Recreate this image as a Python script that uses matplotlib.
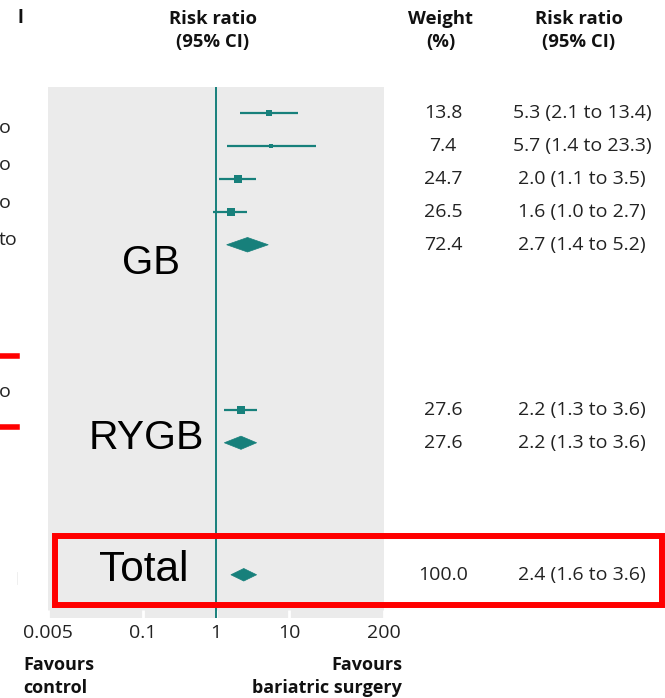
import matplotlib
matplotlib.use("Agg")
import matplotlib.pyplot as plt
from matplotlib.patches import Polygon, Rectangle
from matplotlib.lines import Line2D
import matplotlib.transforms as mtransforms

# ---------------- data ----------------
study_rows = [0, 1, 2, 3, 9]
study_rr = [5.3, 5.7, 2.0, 1.6, 2.2]
study_lo = [2.1, 1.4, 1.1, 0.9, 1.3]
study_hi = [13.4, 23.3, 3.5, 2.7, 3.6]
study_weight = [13.8, 7.4, 24.7, 26.5, 27.6]

pooled_rows = [4, 10, 14]
pooled_rr = [2.7, 2.2, 2.4]
pooled_lo = [1.4, 1.3, 1.6]
pooled_hi = [5.2, 3.6, 3.6]

text_rows = [0, 1, 2, 3, 4, 9, 10, 14]
weight_text = ["13.8", "7.4", "24.7", "26.5", "72.4", "27.6", "27.6", "100.0"]
ci_text = ["5.3 (2.1 to 13.4)", "5.7 (1.4 to 23.3)", "2.0 (1.1 to 3.5)",
           "1.6 (1.0 to 2.7)", "2.7 (1.4 to 5.2)", "2.2 (1.3 to 3.6)",
           "2.2 (1.3 to 3.6)", "2.4 (1.6 to 3.6)"]

xticks = [0.005, 0.1, 1, 10, 200]
xtick_labels = ["0.005", "0.1", "1", "10", "200"]

group_labels = ["GB", "RYGB", "Total"]
cut_labels = ["o", "o", "o", "to", "o"]

# ---------------- style ----------------
W, H = 665, 698
TEAL = "#17807b"
GRAY = "#ebebeb"
RED = "#ff0000"
FONT = "Open Sans"


def fx(px):
    return px / W


def fy(py):
    return 1 - py / H


fig = plt.figure(figsize=(W / 100, H / 100), dpi=100)
fig.patch.set_facecolor("white")

ax = fig.add_axes([fx(48), 1 - 618 / H, 336 / W, 531 / H])
ax.set_facecolor(GRAY)
ax.set_xscale("log")
ax.set_xlim(0.005, 200)
ax.set_ylim(15.31, -0.78)
for s in ax.spines.values():
    s.set_visible(False)
ax.set_yticks([])
ax.set_xticks(xticks)
ax.set_xticklabels(xtick_labels, fontfamily=FONT, fontsize=14, color="#222222")
ax.minorticks_off()
ax.tick_params(axis="x", direction="in", color="white", length=6, width=2, pad=4)

ax.axvline(1, color=TEAL, lw=1.4, zorder=3)

# studies
for r, est, lo, hi, w in zip(study_rows, study_rr, study_lo, study_hi, study_weight):
    ax.plot([lo, hi], [r, r], color=TEAL, lw=1.6, solid_capstyle="butt", zorder=4)
    ax.plot([est], [r], marker="s", color=TEAL, markersize=w ** 0.5 * 1.06,
            markeredgewidth=0, zorder=5)

# pooled diamonds
half_h = [0.22, 0.2, 0.19]
for r, est, lo, hi, h in zip(pooled_rows, pooled_rr, pooled_lo, pooled_hi, half_h):
    poly = Polygon([(lo, r), (est, r - h), (hi, r), (est, r + h)], closed=True,
                   facecolor=TEAL, edgecolor=TEAL, lw=0.5, zorder=5)
    ax.add_patch(poly)

# right columns
tr = mtransforms.blended_transform_factory(fig.transFigure, ax.transData)
for r, wt, ci in zip(text_rows, weight_text, ci_text):
    ax.text(fx(443), r, wt, transform=tr, ha="center", va="center",
            fontfamily=FONT, fontsize=14, color="#222222", clip_on=False)
    ax.text(fx(582), r, ci, transform=tr, ha="center", va="center",
            fontfamily=FONT, fontsize=14, color="#222222", clip_on=False)

# headers
hdr = dict(fontfamily=FONT, fontsize=13.3, fontweight="bold", ha="center", va="center",
           color="#111111")
fig.text(fx(213), fy(19), "Risk ratio", **hdr)
fig.text(fx(213), fy(42), "(95% CI)", **hdr)
fig.text(fx(441), fy(19), "Weight", **hdr)
fig.text(fx(441), fy(42), "(%)", **hdr)
fig.text(fx(579), fy(19), "Risk ratio", **hdr)
fig.text(fx(579), fy(42), "(95% CI)", **hdr)
fig.text(fx(20), fy(18), "l", **hdr)

# favours labels
fav = dict(fontfamily=FONT, fontsize=13, fontweight="bold", va="center", color="#111111")
fig.text(fx(23), fy(665), "Favours", ha="left", **fav)
fig.text(fx(23), fy(688), "control", ha="left", **fav)
fig.text(fx(402), fy(665), "Favours", ha="right", **fav)
fig.text(fx(402), fy(688), "bariatric surgery", ha="right", **fav)

# cut-off left labels
cut_y = [128, 165, 203, 240, 392]
for t, y in zip(cut_labels, cut_y):
    fig.text(fx(11) if t == "o" else fx(17.5), fy(y), t, ha="right", va="center",
             fontfamily=FONT, fontsize=14, color="#222222")
fig.add_artist(Line2D([fx(17), fx(17)], [fy(572), fy(584)], color="#ececec", lw=0.6))

# red annotations
fig.add_artist(Line2D([0, fx(16.5)], [fy(355.5), fy(355.5)], color=RED, lw=4))
fig.add_artist(Line2D([0, fx(16.5)], [fy(427), fy(427)], color=RED, lw=4))
fig.add_artist(Rectangle((fx(55), fy(605)), fx(662) - fx(55), fy(536) - fy(605),
                         transform=fig.transFigure, fill=False, edgecolor=RED, lw=4.3,
                         zorder=10))

# big group labels
big = dict(fontfamily="Liberation Sans", ha="center", va="baseline", color="black")
fig.text(fx(151), fy(274), group_labels[0], fontsize=29, **big)
fig.text(fx(146), fy(449), group_labels[1], fontsize=29.5, **big)
fig.text(fx(143.5), fy(581), group_labels[2], fontsize=30.5, **big)

fig.savefig("out.png", dpi=100)
